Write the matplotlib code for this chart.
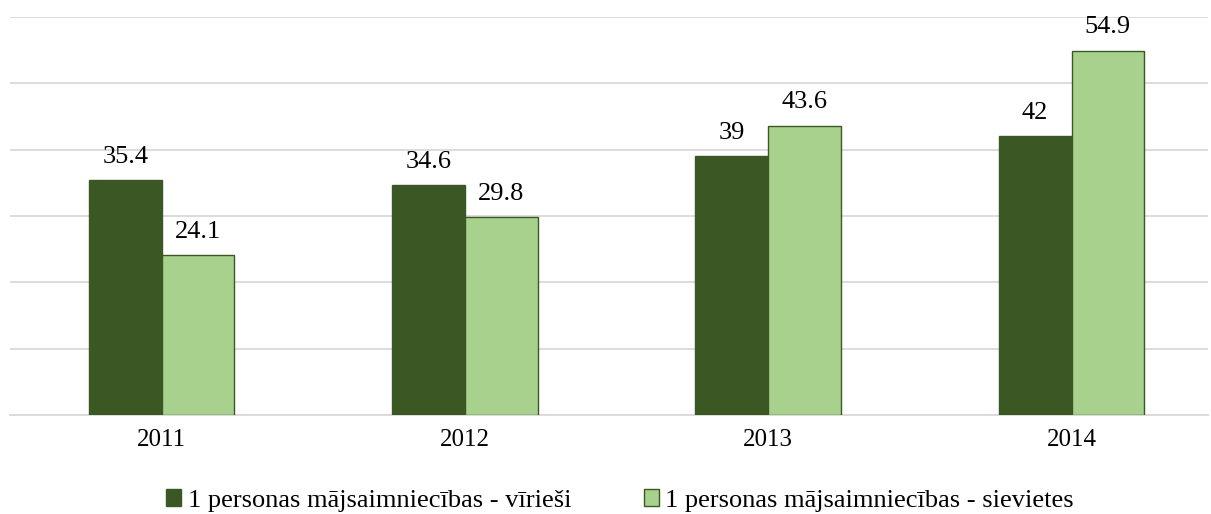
import matplotlib.pyplot as plt
import numpy as np

plt.rcParams['font.family'] = ['Liberation Serif', 'DejaVu Serif']

years = ["2011", "2012", "2013", "2014"]
men = [35.4, 34.6, 39, 42]
women = [24.1, 29.8, 43.6, 54.9]
labels = ["1 personas mājsaimniecības - vīrieši", "1 personas mājsaimniecības - sievietes"]

dark = "#3B5723"
light = "#A9D18E"

fig = plt.figure(figsize=(12.11, 5.14), dpi=100)
ax = fig.add_axes([10 / 1211, 1 - 415 / 514, 1198 / 1211, 398 / 514])

x = np.arange(len(years))
w = 0.24
b1 = ax.bar(x - w / 2, men, w, color=dark, edgecolor=dark, linewidth=1, label=labels[0], zorder=3)
b2 = ax.bar(x + w / 2, women, w, color=light, edgecolor=dark, linewidth=1, label=labels[1], zorder=3)

for bars, vals in [(b1, men), (b2, women)]:
    for rect, v in zip(bars, vals):
        ax.text(rect.get_x() + rect.get_width() / 2, v + 1.9, f"{v:g}",
                ha="center", va="bottom", fontsize=19)

ax.set_ylim(0, 60)
ax.set_xlim(-0.5, 3.45)
ax.set_yticks(np.arange(0, 61, 10))
ax.yaxis.grid(True, color="#D9D9D9", linewidth=1.3, zorder=0)
ax.set_yticklabels([])
ax.tick_params(axis="y", length=0)
ax.tick_params(axis="x", length=0, labelsize=18, pad=10)
ax.set_xticks(x)
ax.set_xticklabels(years)
for s in ["top", "right", "left"]:
    ax.spines[s].set_visible(False)
ax.spines["bottom"].set_color("#D9D9D9")
ax.spines["bottom"].set_linewidth(1.3)

fig.legend(loc="lower center", bbox_to_anchor=(0.512, -0.042), ncol=2, frameon=False,
           fontsize=19, handlelength=0.57, handleheight=0.57, handletextpad=0.25,
           columnspacing=2.75)

fig.savefig("out.png", dpi=100)
